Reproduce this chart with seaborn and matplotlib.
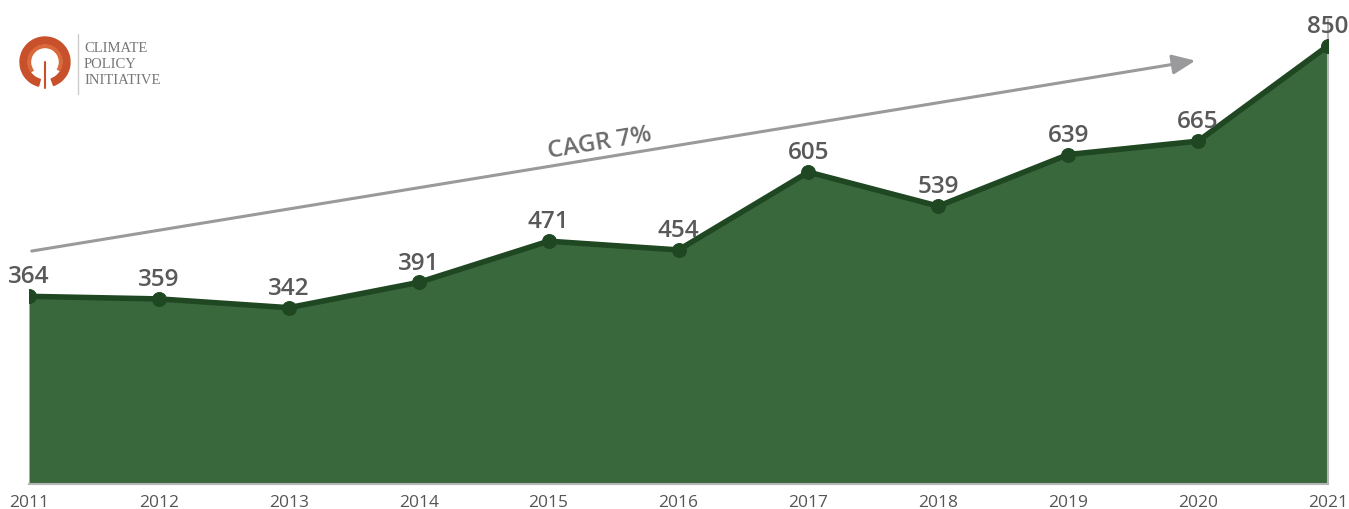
import numpy as np
import pandas as pd
import matplotlib
matplotlib.use('Agg')
import matplotlib.pyplot as plt
import seaborn as sns
from matplotlib.patches import Wedge

years = [2011, 2012, 2013, 2014, 2015, 2016, 2017, 2018, 2019, 2020, 2021]
values = [364, 359, 342, 391, 471, 454, 605, 539, 639, 665, 850]
trend_start = (2011, 451)
trend_end = (2020, 822)
trend_label = 'CAGR 7%'

sns.set_style('white')
plt.rcParams['font.family'] = ['Open Sans', 'DejaVu Sans']

df = pd.DataFrame({'year': years, 'value': values})

fig = plt.figure(figsize=(13.49, 5.10), dpi=100)
ax = fig.add_axes([29 / 1349, 25 / 510, (1328 - 29) / 1349, (485 - 21) / 510])

fill_c = '#3a683d'
line_c = '#1f4722'
ax.fill_between(df['year'], df['value'], 0, color=fill_c, linewidth=0, zorder=1)
sns.lineplot(data=df, x='year', y='value', ax=ax, color=line_c, linewidth=4,
             marker='o', markersize=10, markeredgecolor=line_c, zorder=3)

for x, v in zip(years, values):
    ax.annotate(f'{v}', (x, v), xytext=(0, 10), textcoords='offset points',
                ha='center', va='baseline', fontsize=17.5, fontweight='semibold',
                color='#595959', zorder=4, annotation_clip=False)

# trend arrow
ax.annotate('', xy=trend_end, xytext=trend_start,
            arrowprops=dict(arrowstyle='-|>,head_length=1.4,head_width=0.6',
                            color='#9a9a9c', lw=2.2), zorder=2)
ax.text(2015.4, 652, trend_label, rotation=9.5, rotation_mode='anchor',
        ha='center', va='baseline', fontsize=17.5, fontweight='semibold', color='#6b6b6b')

ax.set_xlim(2011, 2021)
ax.set_ylim(0, 900)
ax.set_xticks(years)
ax.set_xticklabels([str(y) for y in years], fontsize=12.5, color='#555555')
ax.tick_params(axis='x', length=0, pad=7)
ax.set_yticks([])
ax.set_xlabel('')
ax.set_ylabel('')
for s in ['left', 'top']:
    ax.spines[s].set_visible(False)
for s in ['right', 'bottom']:
    ax.spines[s].set_color('#b5b5b5')
    ax.spines[s].set_linewidth(1.5)
ax.spines['bottom'].set_zorder(5)

# logo (pixel coordinates, y up)
lax = fig.add_axes([0, 410 / 510, 180 / 1349, 80 / 510])
lax.set_xlim(0, 180)
lax.set_ylim(410, 490)
lax.set_aspect('equal')
lax.axis('off')
cy = 510 - 63
lax.add_patch(Wedge((45, cy), 25, 290, 255, width=7, color='#c8502a'))
lax.add_patch(Wedge((45, cy), 17, 330, 215, width=2.5, color='#d9683a'))
lax.plot([45, 45], [cy, 510 - 89], color='#c8502a', lw=1.5)
lax.plot([78, 78], [510 - 35, 510 - 95], color='#cccccc', lw=1)
for i, t in enumerate(['CLIMATE', 'POLICY', 'INITIATIVE']):
    lax.text(84, 510 - (48 + i * 16), t, fontsize=10.5, color='#777777',
             family=['Liberation Serif', 'DejaVu Serif'], va='center', ha='left')

fig.savefig('out.png', dpi=100)
